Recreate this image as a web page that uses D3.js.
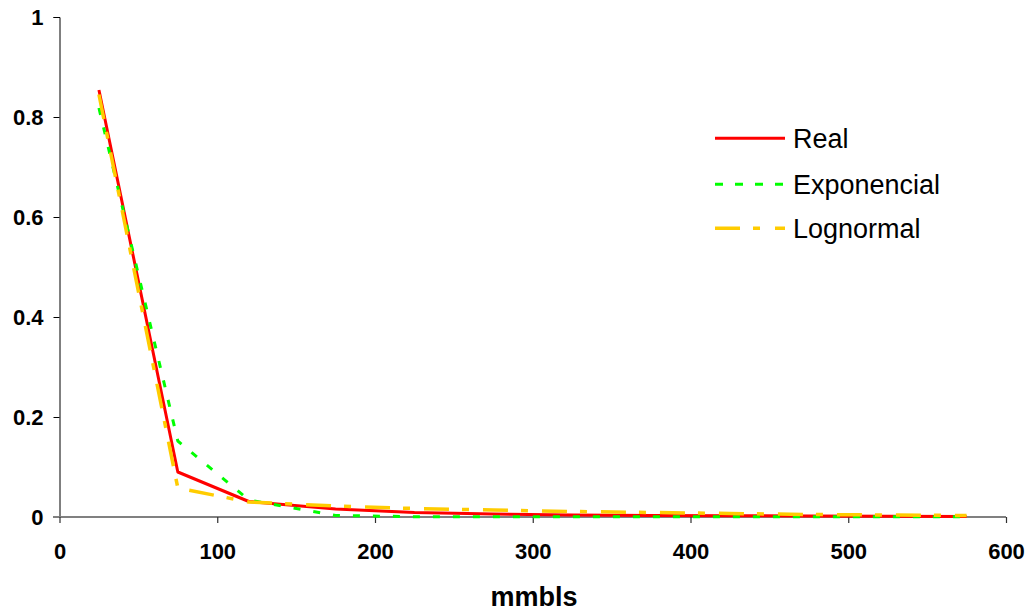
<!DOCTYPE html>
<html>
<head>
<meta charset="utf-8">
<script src="https://cdn.jsdelivr.net/npm/d3@7"></script>
<style>
  html, body { margin: 0; padding: 0; background: #fff; }
  svg { display: block; font-family: "Liberation Sans", Arial, sans-serif; }
</style>
</head>
<body>
<svg id="chart" width="1036" height="611"></svg>
<script>
// ---- data ----
const xValues = [25, 75, 120, 175, 225, 275, 325, 375, 425, 475, 525, 575];
const realValues = [0.854, 0.09, 0.031, 0.016, 0.009, 0.006, 0.004, 0.003, 0.0025, 0.002, 0.0015, 0.001];
const expValues = [0.818, 0.152, 0.034, 0.003, 0.0006, 0.0004, 0.0003, 0.0003, 0.0003, 0.0003, 0.0003, 0.0003];
const logValues = [0.845, 0.058, 0.03, 0.022, 0.017, 0.014, 0.011, 0.009, 0.007, 0.005, 0.004, 0.003];
const seriesNames = ["Real", "Exponencial", "Lognormal"];
const xTicks = [0, 100, 200, 300, 400, 500, 600];
const yTicks = [0, 0.2, 0.4, 0.6, 0.8, 1];
const xTitle = "mmbls";

// ---- styles ----
const styles = [
  { color: "#FF0000", width: 3, dash: null },
  { color: "#00FF00", width: 3, dash: "7,13" },
  { color: "#FFCC00", width: 3.5, dash: "25,13,7,14" }
];

const svg = d3.select("#chart");
const x = d3.scaleLinear().domain([0, 600]).range([59.5, 1006]);
const y = d3.scaleLinear().domain([0, 1]).range([517, 17]);

// y axis
const yAxis = d3.axisLeft(y).tickValues(yTicks).tickSize(6).tickPadding(10)
  .tickFormat(d => d3.format("")(d));
const gy = svg.append("g").attr("transform", `translate(${x(0)},0)`).call(yAxis);
gy.select(".domain").attr("stroke", "#000").attr("stroke-width", 1);
gy.selectAll(".tick line").attr("stroke", "#000");
gy.selectAll(".tick text").attr("font-size", 22).attr("font-weight", "bold")
  .attr("fill", "#000").attr("font-family", '"Liberation Sans", Arial, sans-serif');

// x axis
const xAxis = d3.axisBottom(x).tickValues(xTicks).tickSize(6).tickSizeOuter(0).tickPadding(20);
const gx = svg.append("g").attr("transform", `translate(0,${y(0)})`).call(xAxis);
gx.select(".domain").attr("stroke", "#808080").attr("stroke-width", 2)
  .attr("d", `M53,0H${x(600)}`);
gx.selectAll(".tick line").attr("stroke", "#303030").attr("stroke-width", 1.2);
gx.selectAll(".tick text").attr("font-size", 22).attr("font-weight", "bold")
  .attr("fill", "#000").attr("font-family", '"Liberation Sans", Arial, sans-serif');

// x title
svg.append("text").attr("x", 534).attr("y", 606).attr("text-anchor", "middle")
  .attr("font-size", 27).attr("font-weight", "bold").attr("fill", "#000").text(xTitle);

// lines
const seriesData = [realValues, expValues, logValues];
const line = d3.line().x((d, i) => x(xValues[i])).y(d => y(d));
seriesData.forEach((vals, k) => {
  const s = styles[k];
  const p = svg.append("path").datum(vals).attr("d", line)
    .attr("fill", "none").attr("stroke", s.color).attr("stroke-width", s.width)
    .attr("stroke-linejoin", "round");
  if (s.dash) p.attr("stroke-dasharray", s.dash);
});

// legend
const legendY = [138.3, 184.3, 228.3];
seriesNames.forEach((name, k) => {
  const s = styles[k];
  const l = svg.append("line").attr("x1", 715).attr("x2", 785)
    .attr("y1", legendY[k]).attr("y2", legendY[k])
    .attr("stroke", s.color).attr("stroke-width", s.width);
  if (s.dash) l.attr("stroke-dasharray", k === 1 ? "8,12" : "25,13,7,15");
  svg.append("text").attr("x", 793).attr("y", legendY[k] + 9.5)
    .attr("font-size", 27).attr("fill", "#000").text(name);
});
</script>
</body>
</html>
